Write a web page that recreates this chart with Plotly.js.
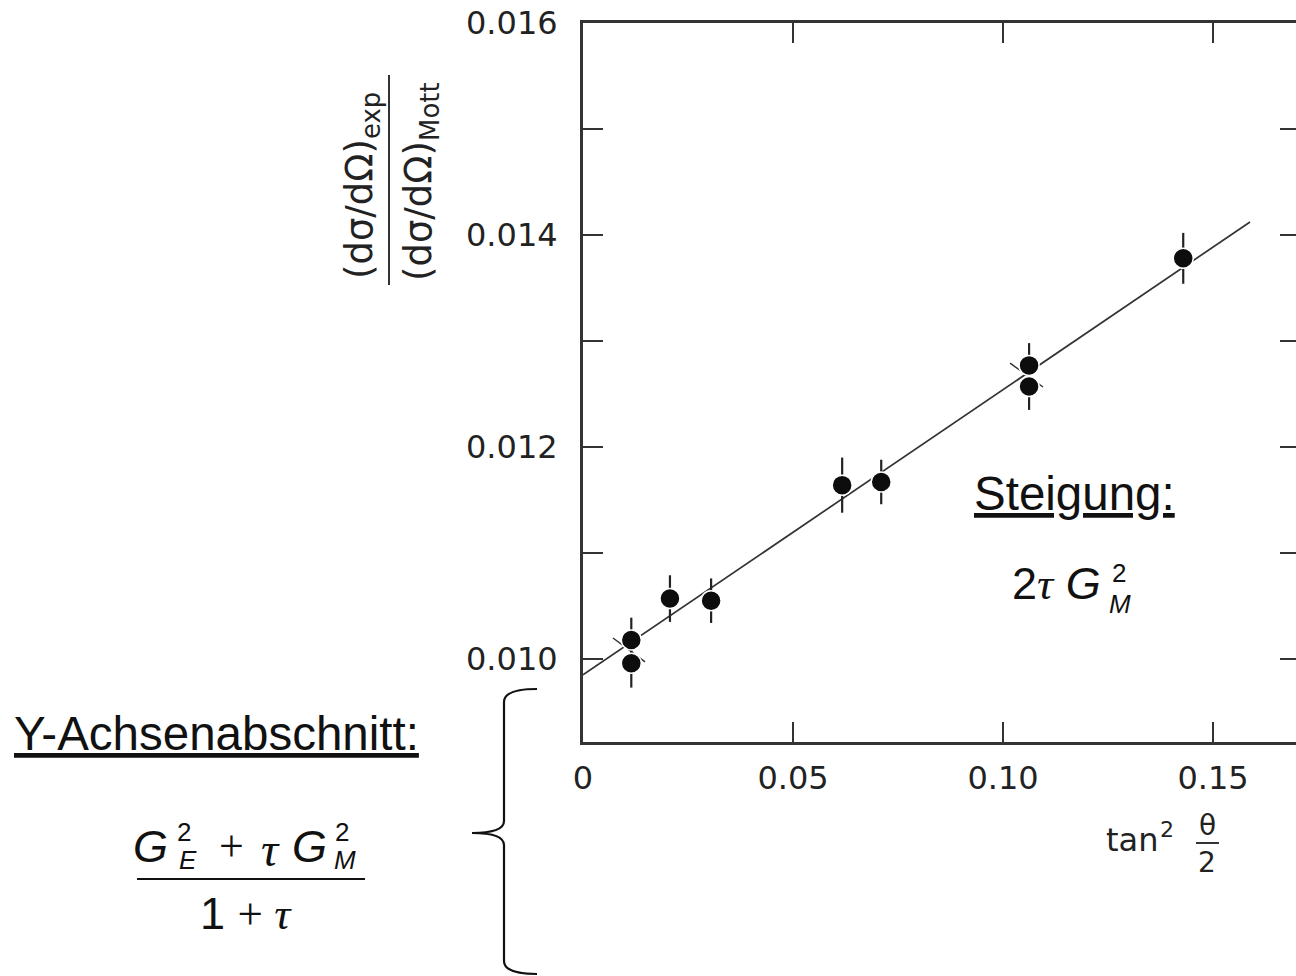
<!DOCTYPE html>
<html>
<head>
<meta charset="utf-8">
<script src="https://cdn.plot.ly/plotly-3.0.1.min.js"></script>
<style>
html,body{margin:0;padding:0;background:#fff;overflow:hidden;}
#chart{width:1310px;height:976px;}
</style>
</head>
<body>
<div id="chart"></div>
<script>
// ---- data ----
const tanSqHalfTheta = [0.0115, 0.0115, 0.0207, 0.0305, 0.0617, 0.0710, 0.1062, 0.1062, 0.1429];
const crossRatio     = [0.01018, 0.00996, 0.01057, 0.01055, 0.01164, 0.01167, 0.01277, 0.01257, 0.01378];
const crossRatioErr  = [0.00021, 0.00023, 0.00022, 0.00021, 0.00026, 0.00021, 0.00021, 0.00022, 0.00024];

const fitX = [0, 0.1588];
const fitY = [0.00985, 0.014123];

const markLowX = [0.00714, 0.01476];
const markLowY = [0.010198, 0.009972];
const markHighX = [0.10167, 0.10952];
const markHighY = [0.012792, 0.012566];

const xTickVals = [0, 0.05, 0.10, 0.15];
const xTickText = ['0', '0.05', '0.10', '0.15'];
const yTickVals = [0.010, 0.012, 0.014, 0.016];
const yTickText = ['0.010', '0.012', '0.014', '0.016'];
const yMinorStep = 0.001;

const xRange = [0, 0.1707];
const yRange = [0.009217, 0.016];

// ---- layout geometry (pixels) ----
const FIG_W = 1310, FIG_H = 976;
const L = 583, T = 23, R = 1300, B = 742;
const PW = R - L, PH = B - T;
function px(x){ return (x - L) / PW; }
function py(y){ return 1 - (y - T) / PH; }

const INK = '#111';
const AX = '#333';
const SANS = 'Liberation Sans, Arial, sans-serif';
const SERIF = 'Liberation Serif, Times New Roman, serif';
const DJ = 'DejaVu Sans, sans-serif';

function ann(text, x, y, size, opts){
  return Object.assign({
    text: text, xref:'paper', yref:'paper', x: px(x), y: py(y),
    xanchor:'center', yanchor:'middle', showarrow:false,
    font:{family:SANS, size:size, color:INK}
  }, opts || {});
}

const traces = [
  {x: fitX, y: fitY, mode:'lines', line:{color:AX, width:1.7}, hoverinfo:'skip'},
  {x: markLowX, y: markLowY, mode:'lines', line:{color:AX, width:1.5}, hoverinfo:'skip'},
  {x: markHighX, y: markHighY, mode:'lines', line:{color:AX, width:1.5}, hoverinfo:'skip'},
  {x: tanSqHalfTheta, y: crossRatio, mode:'markers', type:'scatter',
   marker:{color:'#0d0d0d', size:20, line:{color:'#fff', width:1.5}},
   error_y:{type:'data', array: crossRatioErr, visible:true, thickness:2.2, width:0, color:'#222'}}
];

const annotations = [
  // y-axis title (rotated fraction)
  ann('(dσ/dΩ)<sub>exp</sub>', 362, 186, 37, {textangle:-90, font:{family:DJ, size:37, color:'#222'}}),
  ann('(dσ/dΩ)<sub>Mott</sub>', 421, 182, 37, {textangle:-90, font:{family:DJ, size:37, color:'#222'}}),
  // x-axis title
  ann('tan', 1132, 840, 32, {font:{family:DJ, size:32, color:'#222'}}),
  ann('2', 1167, 829, 22, {font:{family:DJ, size:22, color:'#222'}}),
  ann('θ', 1207, 826, 28, {font:{family:DJ, size:28, color:'#222'}}),
  ann('2', 1207, 862, 28, {font:{family:DJ, size:28, color:'#222'}}),
  // slope text
  ann('<u>Steigung:</u>', 1074, 493, 47.5),
  ann('2<span style="font-family:Liberation Serif"><i>τ</i></span> <i>G</i>', 1056, 583, 45),
  ann('2', 1119, 573, 26),
  ann('<i>M</i>', 1120, 604, 26),
  // intercept text
  ann('<u>Y-Achsenabschnitt:</u>', 12, 733, 47.5, {xanchor:'left'}),
  ann('<i>G</i>', 150, 846, 45),
  ann('2', 184, 832, 26),
  ann('<i>E</i>', 188, 860, 26),
  ann('+', 231, 846, 44, {font:{family:SERIF, size:44, color:INK}}),
  ann('<i>τ</i>', 270, 849, 48, {font:{family:SERIF, size:48, color:INK}}),
  ann('<i>G</i>', 309, 846, 45),
  ann('2', 342, 832, 26),
  ann('<i>M</i>', 345, 860, 26),
  ann('1 <span style="font-family:Liberation Serif">+ <i>τ</i></span>', 246, 913, 45)
];

function linePx(x0,y0,x1,y1,w,c){
  return {type:'line', xref:'paper', yref:'paper', x0:px(x0), y0:py(y0), x1:px(x1), y1:py(y1),
          line:{color:c||INK, width:w}};
}
function P(x,y){ return px(x).toFixed(5)+','+py(y).toFixed(5); }
const bracePath = 'M '+P(537,689)+' Q '+P(504,689)+' '+P(504,702)+' L '+P(504,821)+
  ' Q '+P(504,833)+' '+P(472,833)+' Q '+P(504,833)+' '+P(504,845)+' L '+P(504,961)+
  ' Q '+P(504,974)+' '+P(537,974);

const shapes = [
  linePx(389, 75, 389, 285, 2, '#333'),
  linePx(1196, 843, 1219, 843, 2, '#333'),
  linePx(137, 879, 365, 879, 2),
  {type:'path', xref:'paper', yref:'paper', path: bracePath, line:{color:INK, width:2.2}}
];

const layout = {
  width: FIG_W, height: FIG_H,
  margin:{l:L, r:FIG_W - R, t:T, b:FIG_H - B, pad:0},
  paper_bgcolor:'#fff', plot_bgcolor:'#fff',
  showlegend:false, hovermode:false,
  xaxis:{range:xRange, tickvals:xTickVals, ticktext:xTickText,
         ticks:'inside', ticklen:20, tickwidth:1.6, tickcolor:AX,
         showline:true, linewidth:3, linecolor:AX, mirror:'ticks',
         showgrid:false, zeroline:false, ticklabelstandoff:6,
         tickfont:{family:DJ, size:32, color:'#222'}},
  yaxis:{range:yRange, tickvals:yTickVals, ticktext:yTickText,
         ticks:'inside', ticklen:20, tickwidth:1.6, tickcolor:AX,
         minor:{tick0:0.010, dtick:yMinorStep, ticks:'inside', ticklen:20, tickwidth:1.6, tickcolor:AX, showgrid:false},
         showline:true, linewidth:3, linecolor:AX, mirror:'ticks',
         showgrid:false, zeroline:false, ticklabelstandoff:16,
         tickfont:{family:DJ, size:32, color:'#222'}},
  annotations: annotations,
  shapes: shapes
};

Plotly.newPlot('chart', traces, layout, {staticPlot:true, displayModeBar:false});
</script>
</body>
</html>
